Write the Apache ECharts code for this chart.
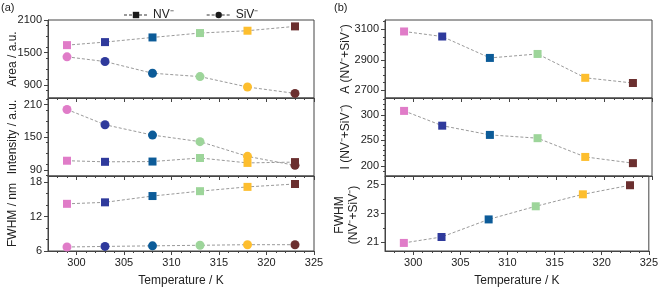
<!DOCTYPE html>
<html>
<head>
<meta charset="utf-8">
<script src="https://cdn.jsdelivr.net/npm/echarts@6/dist/echarts.min.js"></script>
<style>html,body{margin:0;padding:0;background:#fff}#c{width:661px;height:288px}</style>
</head>
<body>
<div id="c"></div>
<script>
// ---- data ----
const temps = [299, 303, 308, 313, 318, 323];
const pointColors = ['#e07cc8', '#2f3a9c', '#0c5b98', '#9dd59a', '#fdbe2e', '#6b2f2f'];
const areaNV = [1636, 1692, 1778, 1859, 1902, 1982];
const areaSiV = [1420, 1333, 1117, 1055, 863, 745];
const intNV = [107, 105, 105.5, 112, 103, 104.5];
const intSiV = [201, 173, 154, 142, 115, 98.5];
const fwhmNV = [14.24, 14.5, 15.6, 16.45, 17.2, 17.7];
const fwhmSiV = [6.7, 6.8, 6.9, 7.0, 7.1, 7.1];
const sumA = [3085, 3052, 2912, 2938, 2782, 2748];
const sumI = [307.7, 278.7, 260.6, 254.2, 217.4, 205.2];
const sumF = [20.96, 21.37, 22.59, 23.5, 24.33, 24.96];
const xTickLabels = [300, 305, 310, 315, 320, 325];
const yTicksA1 = [900, 1500, 2100];
const yTicksA2 = [90, 150, 210];
const yTicksA3 = [6, 12, 18];
const yTicksB1 = [2700, 2900, 3100];
const yTicksB2 = [200, 250, 300];
const yTicksB3 = [21, 23, 25];
const yNames = ['Area / a.u.', 'Intensity / a.u.', 'FWHM / nm',
  'A (NV\u207B+SiV\u207B)', 'I (NV\u207B+SiV\u207B)', 'FWHM\n(NV\u207B+SiV\u207B)'];

// ---- layout ----
const font = 'Liberation Sans, Arial, sans-serif';
const tops = [20, 98, 176];
const H = 78;
const panels = [{left: 48, width: 266}, {left: 385, width: 267}];
const xMin = 297, xMax = 325;
const axisColor = '#444';
const nameX = [13, 13, 13, 346, 346, 347];

const yCfg = [
  {min: 660, max: 2100, major: yTicksA1, step: 200},
  {min: 79, max: 222, major: yTicksA2, step: 20},
  {min: 6, max: 19.1, major: yTicksA3, step: 2},
  {min: 2650, max: 3160, major: yTicksB1, step: 50},
  {min: 180, max: 333, major: yTicksB2, step: 10},
  {min: 20.4, max: 25.6, major: yTicksB3, step: 1}
];

function minorsOf(min, max, step, majors) {
  const out = [];
  const start = Math.ceil(min / step - 1e-9) * step;
  for (let v = start; v <= max - 1e-9; v += step) {
    const r = Math.round(v * 1000) / 1000;
    if (r <= min + 1e-9) continue;
    if (!majors.some(m => Math.abs(m - r) < 1e-6)) out.push(r);
  }
  return out;
}
const xMinor = [];
for (let v = xMin + 1; v < xMax; v++) if (v % 5 !== 0) xMinor.push(v);
const plain = v => String(v);

const grids = [], xAxes = [], yAxes = [], graphics = [];
for (let p = 0; p < 2; p++) {
  for (let r = 0; r < 3; r++) {
    const gi = p * 3 + r;
    grids.push({left: panels[p].left, width: panels[p].width, top: tops[r], height: H,
      show: true, borderColor: axisColor, borderWidth: 1, backgroundColor: 'transparent'});
    const bottom = r === 2;
    xAxes.push({type: 'value', gridIndex: gi, min: xMin, max: xMax, position: 'bottom',
      name: bottom ? 'Temperature / K' : '', nameLocation: 'middle', nameGap: 24,
      nameTextStyle: {fontFamily: font, fontSize: 12, color: '#222'},
      axisLine: {show: true, lineStyle: {color: axisColor, width: 1}},
      axisTick: {show: true, inside: false, length: 4, customValues: xTickLabels, lineStyle: {color: axisColor}},
      axisLabel: {show: bottom, customValues: xTickLabels, formatter: plain, margin: 6, fontFamily: font, fontSize: 11, color: '#222'},
      splitLine: {show: false}});
    xAxes.push({type: 'value', gridIndex: gi, min: xMin, max: xMax, position: 'bottom',
      axisLine: {show: false},
      axisTick: {show: true, inside: false, length: 2, customValues: xMinor, lineStyle: {color: axisColor}},
      axisLabel: {show: false}, splitLine: {show: false}});
    const c = yCfg[gi];
    yAxes.push({type: 'value', gridIndex: gi, min: c.min, max: c.max, position: 'left',
      axisLine: {show: true, lineStyle: {color: axisColor, width: 1}},
      axisTick: {show: true, inside: false, length: 4, customValues: c.major, lineStyle: {color: axisColor}},
      axisLabel: {show: true, customValues: c.major, formatter: plain, margin: 6, fontFamily: font, fontSize: 11, color: '#222'},
      splitLine: {show: false}});
    yAxes.push({type: 'value', gridIndex: gi, min: c.min, max: c.max, position: 'left',
      axisLine: {show: false},
      axisTick: {show: true, inside: false, length: 2, customValues: minorsOf(c.min, c.max, c.step, c.major), lineStyle: {color: axisColor}},
      axisLabel: {show: false}, splitLine: {show: false}});
    graphics.push({type: 'text', x: nameX[gi], y: tops[r] + H / 2, rotation: Math.PI / 2,
      style: {text: yNames[gi], font: '12px ' + font, fill: '#222', align: 'center', verticalAlign: 'middle', lineHeight: 14}});
  }
}

const lineStyle = {color: '#9a9a9a', width: 1, type: [3, 2]};
function mkSeries(name, gi, vals, symbol) {
  return {
    type: 'line', name: name, xAxisIndex: gi * 2, yAxisIndex: gi * 2,
    symbol: symbol, symbolSize: symbol === 'circle' ? 9 : 8,
    itemStyle: {color: '#1a1a1a'},
    lineStyle: lineStyle, animation: false,
    data: vals.map((v, i) => ({value: [temps[i], v], itemStyle: {color: pointColors[i]}}))
  };
}
const NVn = 'NV\u207B', SiVn = 'SiV\u207B';
const series = [
  mkSeries(NVn, 0, areaNV, 'rect'), mkSeries(SiVn, 0, areaSiV, 'circle'),
  mkSeries(SiVn, 1, intSiV, 'circle'), mkSeries(NVn, 1, intNV, 'rect'),
  mkSeries(NVn, 2, fwhmNV, 'rect'), mkSeries(SiVn, 2, fwhmSiV, 'circle'),
  mkSeries('A', 3, sumA, 'rect'), mkSeries('I', 4, sumI, 'rect'), mkSeries('F', 5, sumF, 'rect')
];
graphics.push({type: 'text', left: 1, top: 2, style: {text: '(a)', font: '11px ' + font, fill: '#222'}});
graphics.push({type: 'text', left: 334, top: 2, style: {text: '(b)', font: '11px ' + font, fill: '#222'}});

const chart = echarts.init(document.getElementById('c'), null, {renderer: 'canvas'});
chart.setOption({
  animation: false,
  backgroundColor: '#fff',
  grid: grids, xAxis: xAxes, yAxis: yAxes, series: series,
  legend: {data: [NVn, SiVn], left: 118, top: 4, itemWidth: 24, itemHeight: 8, itemGap: 32,
    textStyle: {fontFamily: font, fontSize: 12, color: '#222'}},
  graphic: graphics
});
</script>
</body>
</html>
